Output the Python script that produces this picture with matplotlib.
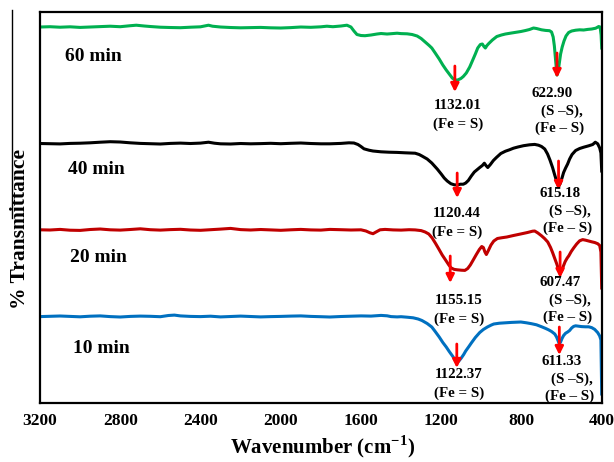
import matplotlib
matplotlib.use('Agg')
import matplotlib.pyplot as plt
from matplotlib.lines import Line2D

plt.rcParams['font.family'] = ['Liberation Serif', 'DejaVu Serif']
plt.rcParams['font.weight'] = 'bold'
plt.rcParams['mathtext.fontset'] = 'custom'
plt.rcParams['mathtext.rm'] = 'Liberation Serif:bold'
plt.rcParams['mathtext.bf'] = 'Liberation Serif:bold'

# FTIR spectra, stacked (offset %T), wavenumber in cm-1
w_60 = [3200, 3150, 3100, 3050, 3000, 2950, 2900, 2850, 2800, 2750, 2720, 2680, 2650, 2600, 2550,
        2500, 2450, 2400, 2360, 2340, 2300, 2250, 2200, 2150, 2100, 2050, 2000, 1950, 1900, 1850,
        1800, 1770, 1740, 1700, 1670, 1650, 1635, 1620, 1600, 1580, 1550, 1520, 1500, 1470, 1450,
        1420, 1400, 1370, 1345, 1320, 1300, 1280, 1260, 1247, 1230, 1210, 1192, 1175, 1160, 1145,
        1132, 1118, 1102, 1090, 1075, 1058, 1045, 1030, 1018, 1005, 995, 987, 980, 972, 963,
        945, 923, 900, 880, 850, 803, 780, 760, 740, 725, 700, 680, 660, 650, 642,
        636, 630, 625, 622.9, 618, 612, 605, 597, 588, 578, 565, 550, 530, 510, 490,
        470, 450, 430, 415, 408, 403, 400]
t_60 = [376, 376.3, 375.8, 376.2, 375.6, 376, 376.4, 376.8, 376.3, 377.3, 377.8, 377, 376.5, 375.8, 375.5,
        375.3, 375.8, 376.2, 377.8, 376.8, 376, 375.5, 375.2, 375.4, 375.6, 375.2, 375, 375.4, 376, 375.7,
        376.2, 376.8, 376.3, 377, 377.8, 376, 372, 368.5, 367.5, 367.3, 368, 369, 369.5, 369, 369.3,
        369.8, 369.4, 369.2, 368.5, 367, 364.5, 361, 357.5, 355, 350, 344, 338, 333, 329, 325,
        323, 323, 324.5, 326.5, 330, 336, 342, 349, 355, 358.5, 359, 356.5, 355, 357.5, 359.5,
        363, 366.5, 368, 369, 370, 371.5, 372.5, 373.5, 375, 374.5, 373.2, 372.6, 372.3, 371, 366,
        357, 343, 332, 328, 331, 339, 349, 356, 362, 367, 370.5, 372, 372.8, 373.2, 373,
        373.6, 374, 374.8, 376.5, 376, 368, 355]

w_40 = [3200, 3150, 3100, 3050, 3000, 2950, 2900, 2850, 2800, 2750, 2700, 2650, 2600, 2550, 2500,
        2450, 2400, 2360, 2330, 2300, 2250, 2200, 2150, 2100, 2050, 2000, 1950, 1900, 1850, 1800,
        1755, 1700, 1660, 1635, 1615, 1600, 1585, 1560, 1540, 1500, 1460, 1420, 1380, 1330, 1310,
        1296, 1270, 1247, 1220, 1200, 1185, 1170, 1152, 1135, 1120, 1105, 1090, 1078, 1065, 1050,
        1035, 1020, 1008, 995, 985, 977, 968, 955, 940, 925, 903, 880, 860, 840, 818,
        790, 760, 734, 715, 700, 684, 670, 658, 645, 635, 625, 615.18, 607, 598, 590,
        580, 570, 560, 548, 530, 510, 490, 465, 445, 432, 420, 410, 404, 400]
t_40 = [259.5, 259.3, 259.1, 259.6, 259.8, 260.2, 260.8, 261.3, 261, 260.2, 259.6, 259.3, 259, 259.6, 259.9,
        259.5, 259.9, 260.8, 259.8, 259.2, 259, 259.5, 259.2, 259.4, 259.7, 259.3, 259.7, 260, 259.5, 259.2,
        259.2, 259.6, 260.2, 260, 258.5, 256.5, 254.2, 252.8, 252, 251.2, 250.8, 250.6, 250.2, 249.8, 248.5,
        247, 244, 240, 234, 229, 225, 222, 219.3, 218.2, 218, 218.8, 218.8, 220, 222.5, 227,
        231, 233.5, 235.5, 237.5, 239.8, 237.5, 235.5, 238.5, 242.5, 245.5, 249.5, 251.8, 253.2, 254.8, 256,
        257.3, 258.2, 258.6, 257.8, 256.5, 254, 249, 243, 235.5, 228.5, 222, 216.5, 219.5, 225, 230.5,
        235, 239, 244, 248.5, 252.5, 254.5, 255.8, 257.2, 258.5, 260.8, 259.2, 255, 250, 232]

w_20 = [3200, 3150, 3100, 3050, 3000, 2950, 2900, 2850, 2800, 2750, 2700, 2650, 2600, 2550, 2500,
        2450, 2400, 2350, 2300, 2250, 2200, 2150, 2100, 2050, 2000, 1950, 1900, 1850, 1800, 1755,
        1700, 1650, 1600, 1575, 1555, 1540, 1525, 1505, 1480, 1440, 1400, 1360, 1330, 1300, 1280,
        1262, 1245, 1228, 1212, 1195, 1180, 1162, 1150, 1135, 1120, 1100, 1082, 1068, 1055, 1042,
        1025, 1010, 998, 990, 982, 975, 965, 952, 938, 920, 900, 873, 840, 800, 770,
        745, 734, 718, 700, 685, 669, 655, 645, 635, 624, 615, 607.47, 600, 592, 582,
        572, 564, 552, 540, 525, 510, 495, 480, 465, 450, 435, 420, 410, 404, 400]
t_20 = [173.2, 173, 173.6, 172.8, 172.6, 173.5, 174, 173.2, 172.9, 173.5, 174.2, 173.3, 172.9, 173.4, 173.7,
        173, 172.7, 173.3, 173.9, 174.6, 173.4, 173, 173.5, 173.1, 172.7, 173.2, 173.6, 173.1, 172.9, 173.6,
        173.3, 173, 173.2, 172, 170.2, 169.3, 171, 173.2, 173.6, 173.1, 172.9, 173.3, 173.1, 172.4, 171,
        169, 165, 159.5, 154, 148, 143.5, 138, 135, 133.6, 133.2, 132.8, 132.6, 134.5, 138, 142.5,
        148.5, 153.5, 156.5, 155.5, 151, 148.5, 152.5, 158, 162, 164.5, 165.2, 166, 167.5, 169.2, 170.5,
        171.8, 172, 170, 167.2, 164.5, 161, 155.5, 150.5, 145, 139, 133.5, 130, 132, 136.5, 141.5,
        145, 147.2, 151.5, 155, 159, 162.2, 163.4, 162.8, 162, 161.2, 160.5, 159.3, 157.5, 151, 115]

w_10 = [3200, 3150, 3100, 3050, 3000, 2950, 2900, 2850, 2800, 2750, 2700, 2650, 2600, 2560, 2530,
        2500, 2450, 2400, 2350, 2300, 2250, 2200, 2150, 2100, 2050, 2000, 1950, 1900, 1850, 1800,
        1755, 1700, 1650, 1600, 1550, 1500, 1470, 1450, 1420, 1400, 1370, 1340, 1315, 1296, 1270,
        1247, 1230, 1210, 1192, 1175, 1160, 1142, 1130, 1122.37, 1112, 1100, 1088, 1078, 1062, 1050,
        1030, 1008, 990, 970, 950, 938, 910, 880, 850, 803, 775, 750, 725, 699, 680,
        665, 650, 634, 625, 617, 611.33, 605, 598, 590, 580, 570, 560, 550, 540, 530,
        515, 500, 480, 465, 450, 435, 420, 410, 404, 400]
t_10 = [86.4, 86.7, 87, 86.6, 86.2, 86.8, 87.1, 86.4, 86, 86.6, 86.9, 86.7, 86.3, 87.5, 87.9,
        87.1, 86.6, 86.4, 86.8, 86.1, 86.5, 86.9, 86.5, 86.1, 86.4, 86.6, 86.9, 87.1, 86.6, 86.3,
        86, 86.5, 86.8, 87.1, 86.9, 87.6, 87.2, 86.4, 86.1, 86.3, 85.8, 85.2, 84, 82.5, 79.5,
        76, 71.5, 66, 60.5, 56, 51.5, 46.5, 42.5, 40, 42, 45, 48.5, 52, 56.5, 60,
        65.5, 70.5, 73.5, 76, 78, 79, 79.8, 80.2, 80.6, 81, 80.2, 79.3, 78.2, 76.2, 74.6,
        73.2, 71.5, 69, 66, 62, 59, 61, 64.5, 67.5, 69.8, 71, 72.5, 75, 76.6, 77.2,
        76.8, 76.4, 76.2, 76.2, 75.4, 73.6, 70.4, 67, 63, 9]

samples = ['60 min', '40 min', '20 min', '10 min']
colors = ['#00b050', '#000000', '#c00000', '#0070c0']

# assigned bands: (Fe = S) and (S -S)/(Fe - S)
fes_peaks = ['1132.01', '1120.44', '1155.15', '1122.37']
ss_peaks = ['622.90', '615.18', '607.47', '611.33']

fig = plt.figure(figsize=(6.14, 4.62), dpi=100)
ax = fig.add_axes([0.0651, 0.1277, 0.9149, 0.8463])

series = [(w_60, t_60), (w_40, t_40), (w_20, t_20), (w_10, t_10)]
for (w, t), c in zip(series, colors):
    ax.plot(w, t, color=c, lw=2.2, solid_joinstyle='round')

# sample names
name_pos = [(3075, 347), (3060, 234), (3050, 146), (3036, 55)]
for s, (x, y) in zip(samples, name_pos):
    ax.text(x, y, s, fontsize=14, fontweight='bold', ha='left', va='center')

# arrow extents (top, bottom) and label heights for each spectrum
fes_arrow = [(337, 311), (230, 205), (147, 120), (59, 35)]
ss_arrow = [(350, 325), (242, 213), (151, 125), (76, 48)]
fes_text = [(1117, 298), (1123, 190), (1113, 103), (1113, 29)]
ss_text = [(649, 310), (609, 210), (609, 121), (599, 42)]

arrow_kw = dict(arrowstyle='-|>', color='#ff0000', lw=2, mutation_scale=12,
                shrinkA=0, shrinkB=0)
fs = 10.8
for i in range(4):
    xf = float(fes_peaks[i])
    xs = float(ss_peaks[i])
    ax.annotate('', xy=(xf, fes_arrow[i][1]), xytext=(xf, fes_arrow[i][0]), arrowprops=arrow_kw)
    ax.annotate('', xy=(xs, ss_arrow[i][1]), xytext=(xs, ss_arrow[i][0]), arrowprops=arrow_kw)

    x, y = fes_text[i]
    ax.text(x, y, fes_peaks[i], fontsize=fs, ha='center', va='center')
    ax.text(x, y - 19, '(Fe = S)', fontsize=fs, ha='center', va='center')

    x, y = ss_text[i]
    ax.text(x, y, ss_peaks[i], fontsize=fs, ha='center', va='center')
    ax.text(x - 52, y - 18, '(S \u2013S),', fontsize=fs, ha='center', va='center')
    ax.text(x - 38, y - 35, '(Fe \u2013 S)', fontsize=fs, ha='center', va='center')

ax.set_xlim(3200, 400)
ax.set_ylim(0, 391)
ax.set_xticks(range(3200, 399, -400))
ax.set_yticks([])
ax.tick_params(axis='x', length=0, pad=7, labelsize=12.5)
for lab in ax.get_xticklabels():
    lab.set_fontweight('bold')
for sp in ax.spines.values():
    sp.set_linewidth(1.6)

fig.text(323 / 614, 1 - 447 / 462, 'Wavenumber (cm$^{-1}$)', fontsize=15,
         fontweight='bold', ha='center', va='center')
fig.text(20 / 614, 1 - 229 / 462, '% Transmittance', rotation=90, fontsize=15.5,
         fontweight='bold', ha='center', va='center')
fig.add_artist(Line2D([12 / 614, 12 / 614], [1 - 10 / 462, 1 - 218 / 462], color='black', lw=1))

fig.savefig('out.png', dpi=100)
